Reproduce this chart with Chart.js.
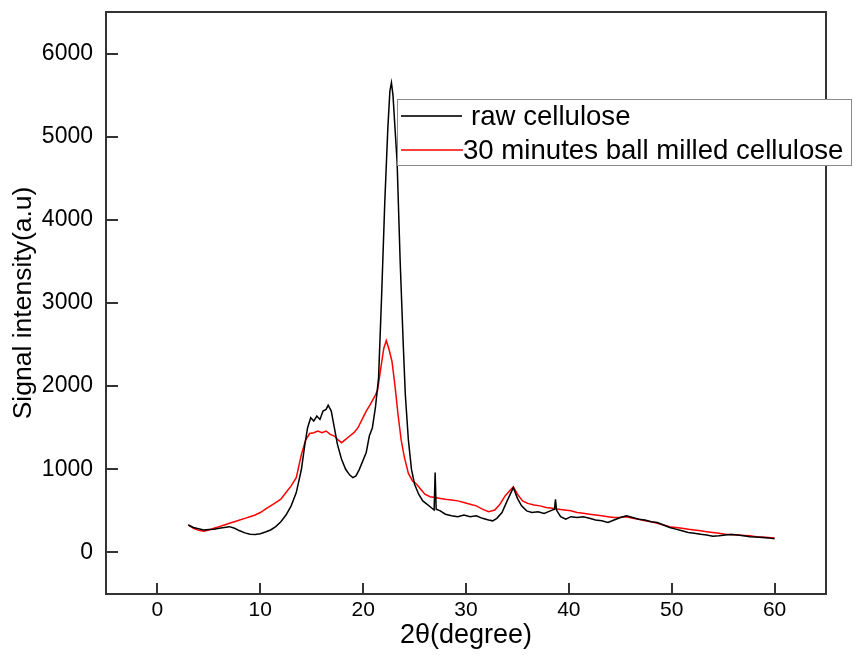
<!DOCTYPE html>
<html>
<head>
<meta charset="utf-8">
<script src="https://cdn.jsdelivr.net/npm/chart.js@4.4.1/dist/chart.umd.min.js"></script>
<style>
  html, body { margin: 0; padding: 0; background: #ffffff; }
  #wrap { width: 854px; height: 655px; position: relative; }
</style>
</head>
<body>
<div id="wrap"><canvas id="c" width="854" height="655"></canvas></div>
<script>
// ---------- data ----------
const seriesLabels = ['raw cellulose', '30 minutes ball milled cellulose'];
const xTickValues = [0, 10, 20, 30, 40, 50, 60];
const yTickValues = [0, 1000, 2000, 3000, 4000, 5000, 6000];

const rawX = [3.0,3.5,4.0,4.5,5.0,5.5,6.0,6.5,7.0,7.5,8.0,8.5,9.0,9.5,10.0,10.5,11.0,11.5,12.0,12.5,13.0,13.5,14.0,14.3,14.6,14.9,15.2,15.5,15.8,16.1,16.4,16.6,16.9,17.2,17.5,17.9,18.3,18.7,19.0,19.3,19.6,19.9,20.3,20.6,20.9,21.2,21.5,21.8,22.1,22.4,22.6,22.75,22.9,23.1,23.3,23.6,23.9,24.1,24.4,24.7,25.0,25.4,25.8,26.2,26.6,26.9,27.0,27.1,27.5,28.0,28.6,29.2,29.8,30.4,31.0,31.6,32.2,32.6,33.0,33.5,34.0,34.6,35.0,35.4,35.9,36.4,37.0,37.6,38.2,38.6,38.7,38.8,39.2,39.7,40.2,40.8,41.4,42.0,42.6,43.2,43.8,44.4,45.0,45.6,46.2,46.8,47.4,48.0,48.6,49.2,49.8,50.4,51.0,51.6,52.2,52.8,53.4,54.0,54.6,55.2,55.8,56.4,57.0,57.6,58.2,58.8,59.4,60.0];
const rawY = [330,300,285,270,275,280,290,300,310,290,260,235,220,215,225,245,270,310,370,450,560,720,1000,1270,1500,1620,1580,1640,1600,1700,1720,1770,1700,1500,1300,1120,1000,930,900,920,990,1080,1200,1400,1500,1750,2100,3100,4200,5100,5550,5650,5500,5100,4700,3500,2500,1900,1350,1000,820,700,620,580,540,510,960,520,500,460,440,430,450,430,440,410,390,380,410,480,620,780,650,560,500,480,490,470,500,520,640,510,430,400,430,420,430,410,390,380,360,390,420,440,420,400,390,370,360,330,300,280,260,240,230,220,210,195,200,210,215,210,200,190,185,180,175,165];

const milledX = [3.0,3.5,4.0,4.5,5.0,5.5,6.0,6.5,7.0,7.5,8.0,8.5,9.0,9.5,10.0,10.5,11.0,11.5,12.0,12.5,13.0,13.5,14.0,14.4,14.8,15.2,15.6,16.0,16.4,16.8,17.2,17.6,17.9,18.3,18.7,19.1,19.5,19.9,20.3,20.7,21.1,21.4,21.7,22.0,22.25,22.5,22.8,23.1,23.4,23.7,24.0,24.4,24.8,25.2,25.6,26.0,26.5,27.0,27.5,28.0,28.6,29.2,29.8,30.4,31.0,31.6,32.2,32.8,33.3,33.8,34.6,35.0,35.5,36.0,36.6,37.2,37.8,38.4,39.0,39.6,40.2,40.8,41.4,42.0,42.6,43.2,43.8,44.4,45.0,45.6,46.2,46.8,47.4,48.0,48.6,49.2,49.8,50.4,51.0,51.6,52.2,52.8,53.4,54.0,54.6,55.2,55.8,56.4,57.0,57.6,58.2,58.8,59.4,60.0];
const milledY = [330,290,265,255,270,290,310,330,350,370,390,410,430,450,480,520,560,600,640,720,800,900,1180,1350,1430,1440,1460,1440,1460,1420,1400,1350,1320,1360,1400,1440,1500,1600,1700,1780,1870,1950,2200,2450,2550,2450,2300,2000,1650,1350,1150,950,860,820,760,700,670,660,650,640,630,620,600,580,560,520,490,510,580,680,790,700,620,590,570,560,540,530,520,510,500,480,470,460,450,440,430,420,420,430,410,400,380,370,350,330,310,300,290,280,270,260,250,240,230,220,215,210,205,200,190,185,180,175];

const seriesColors = ['#000000', '#ff0000'];
const legendColors = ['#333333', '#ff4040'];

function toPoints(xs, ys) { return xs.map((x, i) => ({ x: x, y: ys[i] })); }

// ---------- plugins ----------
const framePlugin = {
  id: 'frame',
  afterDraw(chart) {
    const { ctx, chartArea: a, scales } = chart;
    ctx.save();
    ctx.strokeStyle = '#333333';
    ctx.lineWidth = 2;
    ctx.strokeRect(a.left, a.top, a.right - a.left, a.bottom - a.top);
    // inward tick marks
    ctx.beginPath();
    xTickValues.forEach(v => {
      const px = Math.round(scales.x.getPixelForValue(v));
      ctx.moveTo(px, a.bottom);
      ctx.lineTo(px, a.bottom - 11);
    });
    yTickValues.forEach(v => {
      const py = Math.round(scales.y.getPixelForValue(v));
      ctx.moveTo(a.left, py);
      ctx.lineTo(a.left + 12, py);
    });
    ctx.stroke();

    // legend box
    const bx = 397, by = 99, bw = 455, bh = 67;
    ctx.fillStyle = '#ffffff';
    ctx.fillRect(bx, by, bw, bh);
    ctx.strokeStyle = '#8a8a8a';
    ctx.lineWidth = 1;
    ctx.strokeRect(bx + 0.5, by + 0.5, bw - 1, bh - 1);
    const rows = [
      { y: 116, lx0: 401, lx1: 462, tx: 471 },
      { y: 150, lx0: 401, lx1: 463, tx: 463 }
    ];
    chart.data.datasets.forEach((ds, i) => {
      const r = rows[i];
      ctx.strokeStyle = legendColors[i];
      ctx.lineWidth = 2;
      ctx.beginPath();
      ctx.moveTo(r.lx0, r.y);
      ctx.lineTo(r.lx1, r.y);
      ctx.stroke();
      ctx.fillStyle = '#000000';
      ctx.font = '27.6px "Liberation Sans", Arial, sans-serif';
      ctx.textBaseline = 'middle';
      ctx.textAlign = 'left';
      ctx.fillText(ds.label, r.tx, r.y + 1);
    });
    ctx.restore();
  }
};

const fontFamily = '"Liberation Sans", Arial, sans-serif';
const ctx = document.getElementById('c').getContext('2d');
new Chart(ctx, {
  type: 'line',
  data: {
    datasets: [
      { label: seriesLabels[0], data: toPoints(rawX, rawY), borderColor: seriesColors[0], borderWidth: 1.5, pointRadius: 0, tension: 0, fill: false },
      { label: seriesLabels[1], data: toPoints(milledX, milledY), borderColor: seriesColors[1], borderWidth: 1.5, pointRadius: 0, tension: 0, fill: false }
    ]
  },
  options: {
    responsive: false,
    animation: false,
    layout: { padding: { left: 0, right: 28, top: 12, bottom: 0 } },
    plugins: { legend: { display: false }, tooltip: { enabled: false } },
    scales: {
      x: {
        type: 'linear',
        min: -5, max: 65,
        grid: { display: false, drawTicks: false },
        border: { display: false },
        afterBuildTicks(scale) { scale.ticks = xTickValues.map(v => ({ value: v })); },
        afterFit(scale) { scale.height = 61; scale.paddingLeft = 0; scale.paddingRight = 0; },
        ticks: { color: '#000000', padding: 4, maxRotation: 0, autoSkip: false,
          callback: v => String(v),
          font: { family: fontFamily, size: 21 } },
        title: { display: true, text: '2θ(degree)', color: '#000000', padding: { top: 0, bottom: 3 },
          font: { family: fontFamily, size: 27 } }
      },
      y: {
        type: 'linear',
        min: -500, max: 6500,
        grid: { display: false, drawTicks: false },
        border: { display: false },
        afterBuildTicks(scale) { scale.ticks = yTickValues.map(v => ({ value: v })); },
        afterFit(scale) { scale.width = 106; scale.paddingTop = 0; scale.paddingBottom = 0; },
        ticks: { color: '#000000', padding: 13, autoSkip: false,
          callback: v => String(v),
          font: { family: fontFamily, size: 23 } },
        title: { display: true, text: 'Signal intensity(a.u)', color: '#000000', padding: { top: 8, bottom: 0 },
          font: { family: fontFamily, size: 26.5 } }
      }
    }
  },
  plugins: [framePlugin]
});
</script>
</body>
</html>
